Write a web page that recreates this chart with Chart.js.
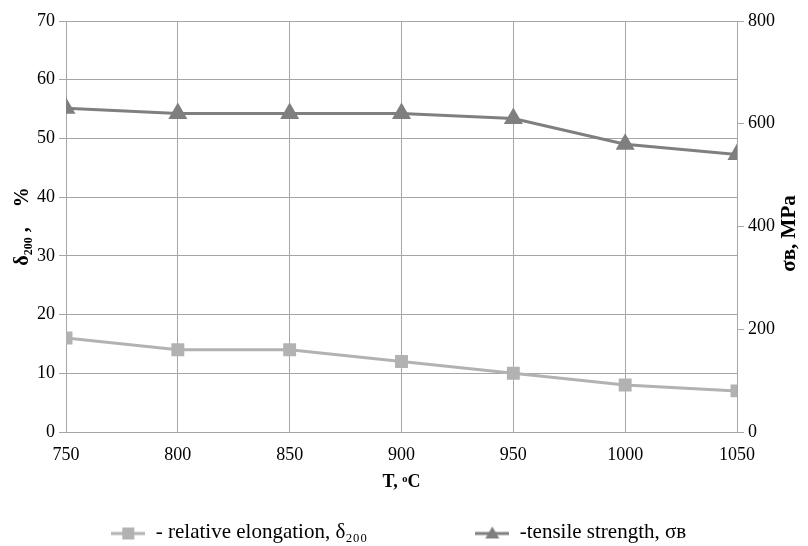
<!DOCTYPE html>
<html><head><meta charset="utf-8">
<script src="https://cdn.jsdelivr.net/npm/chart.js@4/dist/chart.umd.min.js"></script>
<style>html,body{margin:0;padding:0;background:#fff}#wrap{width:808px;height:546px}</style>
</head><body><div id="wrap"><canvas id="c" width="808" height="546"></canvas></div>
<script>
const temperatures = [750, 800, 850, 900, 950, 1000, 1050];
const elongation = [16, 14, 14, 12, 10, 8, 7];
const tensileStrength = [630, 620, 620, 620, 610, 560, 540];
const leftTicks = [0, 10, 20, 30, 40, 50, 60, 70];
const rightTicks = [0, 200, 400, 600, 800];
const seriesNames = ['- relative elongation, δ\u2082\u2080\u2080', '-tensile strength, σв'];
const rightTitle = 'σв, МРа';

const elColor = '#b2b2b2', tsColor = '#7f7f7f', gridColor = '#a6a6a6';
const FONT = '"Liberation Serif", "Times New Roman", serif';
const TRAIL = ['\u2003\u2003\u2003\u2003\u2003', '\u2002'];

function legendIcon(color, style) {
  const c = document.createElement('canvas');
  c.width = 34; c.height = 16;
  const g = c.getContext('2d');
  g.strokeStyle = color; g.lineWidth = 3;
  g.beginPath(); g.moveTo(0, 9); g.lineTo(34, 9); g.stroke();
  g.fillStyle = color;
  if (style === 'rect') { g.fillRect(11, 3, 12, 12); }
  else { g.beginPath(); g.moveTo(17, 2); g.lineTo(24, 14); g.lineTo(10, 14); g.closePath(); g.fill(); }
  return c;
}

const rightTitlePlugin = {
  id: 'rightTitle',
  afterDraw(chart) {
    const s = chart.scales.y1, ctx = chart.ctx;
    ctx.save();
    ctx.translate(790, (s.top + s.bottom) / 2 + 7);
    ctx.rotate(-Math.PI / 2);
    ctx.font = 'bold 21px ' + FONT;
    ctx.fillStyle = '#000';
    ctx.textAlign = 'center';
    ctx.textBaseline = 'middle';
    ctx.fillText(rightTitle, 0, 0);
    ctx.restore();
  }
};

new Chart(document.getElementById('c'), {
  type: 'line',
  data: {
    datasets: [
      { label: seriesNames[0], data: temperatures.map((t, i) => ({ x: t, y: elongation[i] })),
        yAxisID: 'y', borderColor: elColor, backgroundColor: elColor, borderWidth: 3,
        pointStyle: 'rect', pointRadius: 7, pointHoverRadius: 7, tension: 0 },
      { label: seriesNames[1], data: temperatures.map((t, i) => ({ x: t, y: tensileStrength[i] })),
        yAxisID: 'y1', borderColor: tsColor, backgroundColor: tsColor, borderWidth: 3,
        pointStyle: 'triangle', pointRadius: 8, pointHoverRadius: 8, tension: 0 }
    ]
  },
  plugins: [rightTitlePlugin],
  options: {
    responsive: false, animation: false,
    layout: { padding: { top: 21, left: 0, right: 0, bottom: -7 } },
    plugins: {
      tooltip: { enabled: false },
      legend: {
        position: 'bottom',
        labels: {
          font: { family: FONT, size: 21 }, color: '#000', padding: 3,
          usePointStyle: true, pointStyleWidth: 34,
          generateLabels: (chart) => chart.data.datasets.map((d, i) => ({
            text: d.label + TRAIL[i], fillStyle: d.borderColor, strokeStyle: d.borderColor,
            pointStyle: legendIcon(d.borderColor, i === 0 ? 'rect' : 'tri'),
            datasetIndex: i, hidden: false, lineWidth: 0
          }))
        }
      }
    },
    scales: {
      x: {
        type: 'linear', min: 750, max: 1050,
        afterBuildTicks: (s) => { s.ticks = temperatures.map(v => ({ value: v })); },
        grid: { color: gridColor, lineWidth: 1, drawTicks: false },
        border: { color: gridColor },
        ticks: { font: { family: FONT, size: 18 }, color: '#000', padding: 12, callback: (v) => String(v) },
        title: { display: true, text: 'T, ᵒC', font: { family: FONT, size: 18, weight: 'bold' }, color: '#000', padding: { top: 6, bottom: 26 } },
        afterFit: (s) => { s.height = 87; }
      },
      y: {
        position: 'left', min: 0, max: 70,
        afterBuildTicks: (s) => { s.ticks = leftTicks.map(v => ({ value: v })); },
        grid: { color: gridColor, lineWidth: 1, tickLength: 7 },
        border: { color: gridColor },
        ticks: { font: { family: FONT, size: 18 }, color: '#000', padding: 4, callback: (v) => String(v) },
        title: { display: true, text: 'δ\u2082\u2080\u2080 ,    %', font: { family: FONT, size: 20, weight: 'bold' }, color: '#000', padding: { top: 11, bottom: 4 } },
        afterFit: (s) => { s.width = 66; }
      },
      y1: {
        position: 'right', min: 0, max: 800,
        afterBuildTicks: (s) => { s.ticks = rightTicks.map(v => ({ value: v })); },
        grid: { drawOnChartArea: false, color: gridColor, tickLength: 7 },
        border: { color: gridColor },
        ticks: { font: { family: FONT, size: 18 }, color: '#000', padding: 4, callback: (v) => String(v) },
        title: { display: false },
        afterFit: (s) => { s.width = 71; }
      }
    }
  }
});
</script></body></html>
